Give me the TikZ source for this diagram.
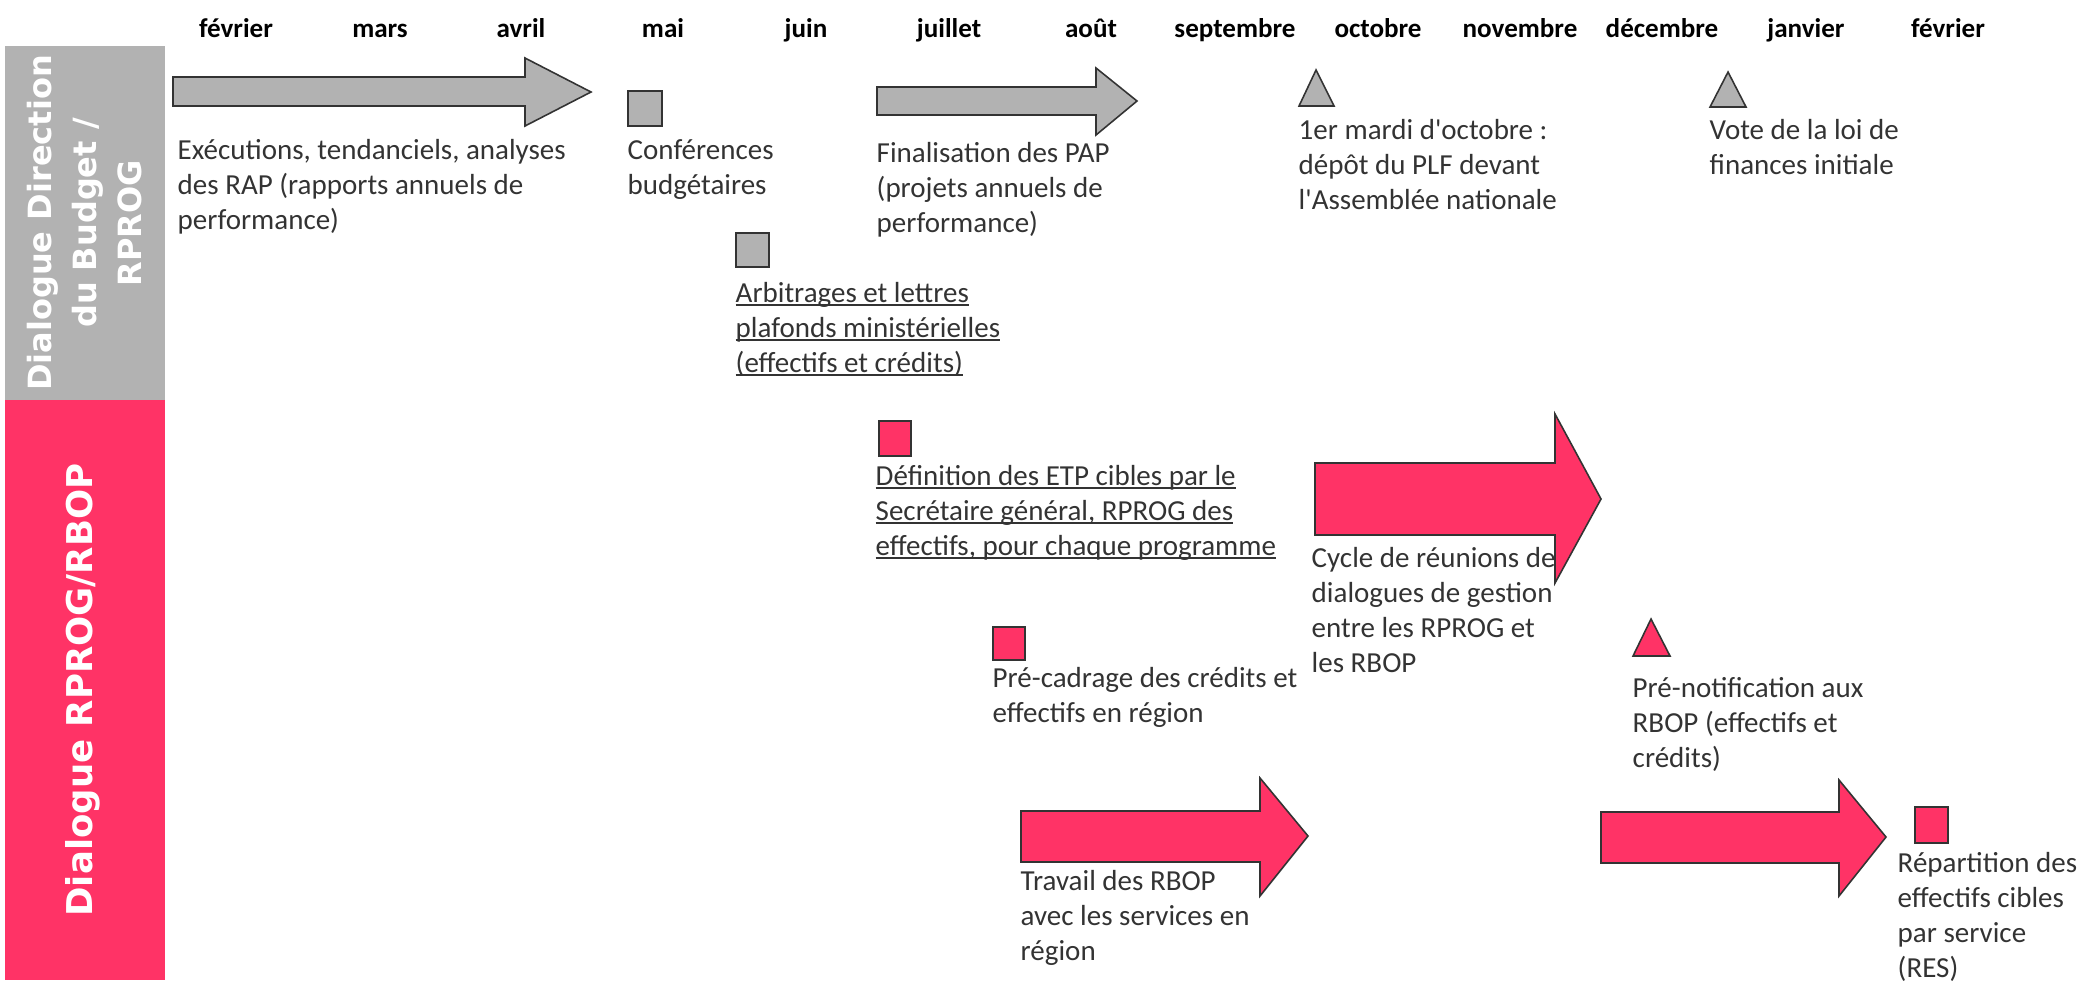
\documentclass[tikz,border=0pt]{standalone}
\usepackage{fontspec}
\newfontfamily\bodyfont{Carlito}
\newfontfamily\barfont{DejaVu Sans}
\definecolor{gfill}{HTML}{B2B2B2}
\definecolor{pfill}{HTML}{FF3366}
\definecolor{txt}{HTML}{333333}
\definecolor{edge}{HTML}{333333}
\newsavebox\ulinebox
\newcommand\ulin[1]{\sbox\ulinebox{#1}\rlap{\rule[-0.9pt]{\wd\ulinebox}{0.5pt}}\usebox\ulinebox}
\begin{document}
\begin{tikzpicture}[x=0.01cm,y=-0.01cm,
  lbl/.style={anchor=north west, inner sep=0pt, align=left, text=txt,
    font=\bodyfont\fontsize{8.25}{9.96}\selectfont},
  month/.style={anchor=base, inner sep=0pt,
    font=\bodyfont\bfseries\fontsize{7.7}{9}\selectfont},
  gshape/.style={fill=gfill, draw=edge, line width=0.45pt},
  pshape/.style={fill=pfill, draw=edge, line width=0.45pt},
  bartext/.style={rotate=90, text=white, align=center, inner sep=0pt}
]
\useasboundingbox (0,0) rectangle (2077,981);

% months
\foreach \m/\x [count=\i] in {février/236, mars/380, avril/521, mai/663, juin/806, juillet/949, août/1091, septembre/1235, octobre/1378, novembre/1520, décembre/1662, janvier/1806, février/1948}
  \node[month] (m\i) at (\x,37) {\m};

% side bars
\fill[gfill] (5,46) rectangle (165,400);
\fill[pfill] (5,400) rectangle (165,980);
\node[bartext, font=\barfont\bfseries\fontsize{9.1}{12.8}\selectfont] (bar1) at (85,223)
  {Dialogue Direction\\du Budget /\\RPROG};
\node[bartext, font=\barfont\bfseries\fontsize{10.1}{12}\selectfont] (bar2) at (83,690)
  {Dialogue RPROG/RBOP};

% grey band
\draw[gshape] (173,77) -- (525,77) -- (525,58) -- (591,92) -- (525,126) -- (525,106) -- (173,106) -- cycle;
\node[lbl] (t1) at (177,134.5) {\strut Exécutions, tendanciels, analyses\\des RAP (rapports annuels de\\performance)};

\draw[gshape] (628,91) rectangle (662,126);
\node[lbl] (t2) at (627,134.5) {\strut Conférences\\budgétaires};

\draw[gshape] (736,233) rectangle (769,267);
\node[lbl] (t3) at (735,277.5) {\strut\ulin{Arbitrages et lettres}\\\ulin{plafonds ministérielles}\\\ulin{(effectifs et crédits)}};

\draw[gshape] (877,87) -- (1096,87) -- (1096,68) -- (1137,101) -- (1096,135) -- (1096,115) -- (877,115) -- cycle;
\node[lbl] (t4) at (876,137.5) {\strut Finalisation des PAP\\(projets annuels de\\performance)};

\draw[gshape] (1299,106) -- (1316,70) -- (1334,106) -- cycle;
\node[lbl] (t5) at (1298,114.5) {\strut 1er mardi d\textquotesingle octobre :\\dépôt du PLF devant\\l\textquotesingle Assemblée nationale};

\draw[gshape] (1710,107) -- (1728,72) -- (1746,107) -- cycle;
\node[lbl] (t6) at (1709,114.5) {\strut Vote de la loi de\\finances initiale};

% pink band
\draw[pshape] (879,421) rectangle (911,456);
\node[lbl] (t7) at (875,460.5) {\strut\ulin{Définition des ETP cibles par le}\\\ulin{Secrétaire général, RPROG des}\\\ulin{effectifs, pour chaque programme}};

\draw[pshape] (1315,463) -- (1555,463) -- (1555,414) -- (1601,499) -- (1555,583) -- (1555,535) -- (1315,535) -- cycle;
\node[lbl] (t8) at (1311,542.5) {\strut Cycle de réunions de\\dialogues de gestion\\entre les RPROG et\\les RBOP};

\draw[pshape] (993,627) rectangle (1025,660);
\node[lbl] (t9) at (992,662.5) {\strut Pré-cadrage des crédits et\\effectifs en région};

\draw[pshape] (1633,656) -- (1651,619) -- (1670,656) -- cycle;
\node[lbl] (t10) at (1632,672.5) {\strut Pré-notification aux\\RBOP (effectifs et\\crédits)};

\draw[pshape] (1021,811) -- (1260,811) -- (1260,778) -- (1308,836) -- (1260,896) -- (1260,862) -- (1021,862) -- cycle;
\node[lbl] (t11) at (1020,865.5) {\strut Travail des RBOP\\avec les services en\\région};

\draw[pshape] (1601,812) -- (1839,812) -- (1839,780) -- (1886,837) -- (1839,896) -- (1839,863) -- (1601,863) -- cycle;

\draw[pshape] (1915,807) rectangle (1948,843);
\node[lbl] (t12) at (1897,847.5) {\strut Répartition des\\effectifs cibles\\par service\\(RES)};
\end{tikzpicture}
\end{document}
